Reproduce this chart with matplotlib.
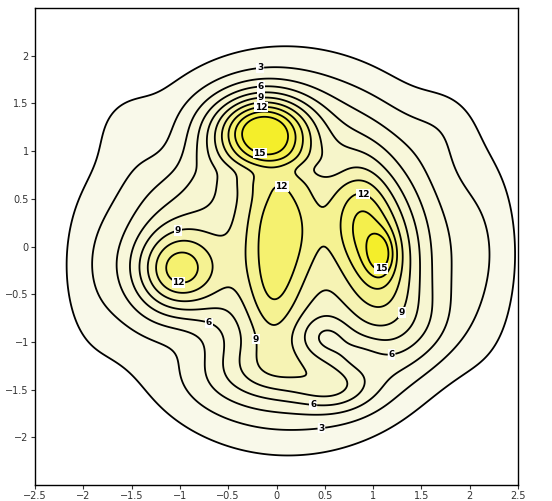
import numpy as np
import matplotlib
matplotlib.use("Agg")
import matplotlib.pyplot as plt
from matplotlib.colors import LinearSegmentedColormap

# flat-topped base: centre, height, half widths
base_x, base_y, base_h, base_sx, base_sy = 0.12, -0.05, 7.5, 1.85, 1.90

# bumps on top of the base: centre x, centre y, height, x-width, y-width
bump_x = [-0.15, 1.08, 1.08, 0.85, -1.03, 0.05, -0.05, 0.00, 0.60, 1.45,
          2.20, 0.50, 0.85, -0.90, 0.05, -1.95, -1.55, 1.75, -1.15]
bump_y = [1.22, -0.15, -0.08, 0.35, -0.24, 0.20, -0.60, -1.30, -1.50, -0.85,
          -0.10, -0.95, -1.15, -1.00, 0.80, -0.30, 1.30, 1.30, 1.05]
bump_h = [10.5, 5.0, 3.5, 4.0, 6.5, 5.5, 2.5, 2.5, 2.5, 1.5,
          1.5, -2.0, -1.5, -2.0, -1.2, 1.2, 1.0, 1.0, -1.2]
bump_sx = [0.34, 0.28, 0.10, 0.22, 0.30, 0.30, 0.20, 0.45, 0.28, 0.35,
           0.28, 0.18, 0.20, 0.35, 0.40, 0.25, 0.28, 0.25, 0.25]
bump_sy = [0.26, 0.50, 0.16, 0.40, 0.30, 0.55, 0.40, 0.22, 0.17, 0.30,
           0.90, 0.15, 0.15, 0.30, 0.08, 0.70, 0.30, 0.30, 0.30]

levels = [1.5, 3, 4.5, 6, 7.5, 9, 10.5, 12, 13.5, 15]
label_levels = [3, 6, 9, 12, 15]
label_pos = [(-0.17, 1.89), (0.47, -1.95),
             (-0.16, 1.69), (-0.69, -0.76), (1.20, -1.21), (0.38, -1.67),
             (-0.16, 1.57), (-1.02, 0.17), (-0.07, -0.95), (1.31, -0.70),
             (-0.16, 1.44), (0.06, 0.65), (0.91, 0.59), (-1.02, -0.41),
             (-0.16, 1.03), (1.11, -0.29)]
ticks = [-2.5, -2, -1.5, -1, -0.5, 0, 0.5, 1, 1.5, 2, 2.5]
tick_labels = ["\u22122.5", "\u22122", "\u22121.5", "\u22121", "\u22120.5", "0",
               "0.5", "1", "1.5", "2", "2.5"]

x = np.linspace(-2.5, 2.5, 301)
y = np.linspace(-2.5, 2.5, 301)
X, Y = np.meshgrid(x, y)
q = ((X - base_x) / base_sx) ** 2 + ((Y - base_y) / base_sy) ** 2
Z = base_h * np.exp(-q ** 2)
for bx, by, bh, sx, sy in zip(bump_x, bump_y, bump_h, bump_sx, bump_sy):
    Z += bh * np.exp(-0.5 * ((X - bx) / sx) ** 2 - 0.5 * ((Y - by) / sy) ** 2)

cmap = LinearSegmentedColormap.from_list("cream", ["#f9f9ea", "#f6f4c6", "#f4ee2a"])
fill_levels = levels + [max(Z.max(), 16) + 1]
colors = [cmap(i / (len(levels) - 1)) for i in range(len(levels))]

fig = plt.figure(figsize=(5.52, 5.01), dpi=100)
ax = fig.add_axes([35 / 552, 16 / 501, 483 / 552, 477 / 501])
ax.contourf(X, Y, Z, levels=fill_levels, colors=colors)
plain = [lv for lv in levels if lv not in label_levels]
ax.contour(X, Y, Z, levels=plain, colors="black", linewidths=1.3)
cs = ax.contour(X, Y, Z, levels=label_levels, colors="black", linewidths=1.3)
lbls = ax.clabel(cs, manual=label_pos, inline=True, inline_spacing=1,
                 fmt="%d", fontsize=6.5)
for t in lbls:
    t.set_fontweight("bold")
    t.set_rotation(0)
    t.set_bbox(dict(facecolor="white", edgecolor="none", pad=0.5))

ax.set_xlim(-2.5, 2.5)
ax.set_ylim(-2.5, 2.5)
ax.set_xticks(ticks)
ax.set_xticklabels(tick_labels)
ax.set_yticks(ticks[1:-1])
ax.set_yticklabels(tick_labels[1:-1])
ax.tick_params(labelsize=7, length=3, width=0.8, pad=1.5, colors="#333333")
for s in ax.spines.values():
    s.set_linewidth(1.0)

fig.savefig("out.png", dpi=100)
